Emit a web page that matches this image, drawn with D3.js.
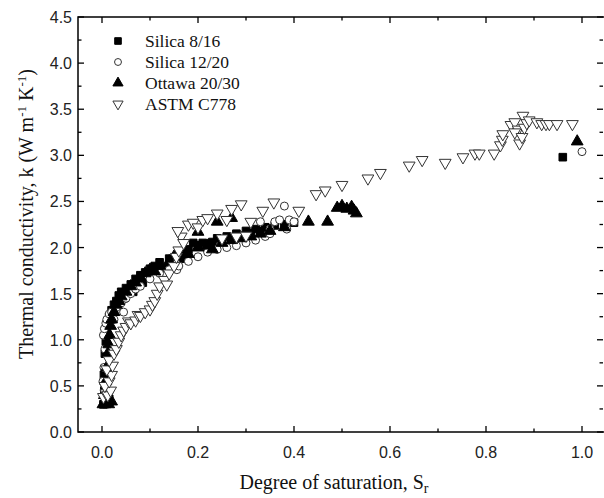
<!DOCTYPE html>
<html><head><meta charset="utf-8">
<script src="https://cdn.jsdelivr.net/npm/d3@7"></script>
<style>body{margin:0;background:#fff}svg{display:block}</style>
</head><body>
<svg id="c" width="604" height="498"></svg>
<script>
const seriesNames = ["Silica 8/16", "Silica 12/20", "Ottawa 20/30", "ASTM C778"];
const xTicks = [0.0, 0.2, 0.4, 0.6, 0.8, 1.0];
const yTicks = [0.0, 0.5, 1.0, 1.5, 2.0, 2.5, 3.0, 3.5, 4.0, 4.5];

const silica816 = [[0.003,0.30],[0.008,0.33],[0.012,0.38],[0.005,0.45],[0.015,0.36],[0.004,0.62],[0.006,0.85],[0.008,0.98],[0.01,1.08],[0.012,1.18],[0.015,1.25],[0.02,1.32],[0.025,1.38],[0.03,1.42],[0.035,1.48],[0.04,1.52],[0.045,1.45],[0.05,1.56],[0.06,1.6],[0.065,1.52],[0.07,1.66],[0.08,1.7],[0.085,1.62],[0.09,1.73],[0.1,1.77],[0.11,1.8],[0.12,1.84],[0.13,1.78],[0.14,1.88],[0.16,1.93],[0.17,1.88],[0.18,1.98],[0.19,2.05],[0.2,2.02],[0.21,2.05],[0.22,2.0],[0.23,2.06],[0.24,2.1],[0.25,2.07],[0.26,2.12],[0.27,2.1],[0.28,2.15],[0.29,2.12],[0.3,2.18],[0.31,2.16],[0.32,2.2],[0.33,2.18],[0.34,2.22],[0.35,2.2],[0.36,2.24],[0.38,2.25],[0.4,2.27],[0.96,2.98]];
const silica1220 = [[0.002,0.55],[0.004,0.7],[0.006,0.9],[0.003,1.05],[0.005,1.12],[0.008,1.18],[0.01,1.22],[0.015,1.28],[0.02,1.3],[0.025,1.22],[0.03,1.35],[0.04,1.4],[0.045,1.3],[0.05,1.45],[0.06,1.5],[0.07,1.55],[0.08,1.58],[0.1,1.66],[0.12,1.72],[0.14,1.76],[0.156,1.76],[0.16,1.8],[0.18,1.85],[0.2,1.9],[0.22,1.95],[0.24,1.98],[0.26,2.0],[0.28,2.02],[0.3,2.05],[0.32,2.08],[0.34,2.12],[0.35,2.2],[0.36,2.28],[0.37,2.3],[0.38,2.45],[0.39,2.3],[0.4,2.28],[0.385,2.2],[0.33,2.28],[0.35,2.15],[1.0,3.04]];
const ottawa2030 = [[0.002,0.3],[0.006,0.3],[0.01,0.32],[0.014,0.3],[0.02,0.33],[0.005,0.4],[0.008,0.55],[0.01,0.7],[0.012,0.85],[0.014,0.95],[0.016,1.05],[0.018,1.15],[0.02,1.22],[0.025,1.3],[0.03,1.38],[0.035,1.42],[0.04,1.47],[0.05,1.52],[0.06,1.58],[0.07,1.62],[0.08,1.67],[0.09,1.72],[0.1,1.76],[0.11,1.74],[0.12,1.8],[0.14,1.85],[0.15,1.9],[0.17,1.95],[0.18,1.93],[0.2,2.0],[0.2,2.17],[0.22,2.02],[0.23,1.98],[0.24,2.28],[0.25,2.05],[0.27,2.08],[0.27,2.32],[0.29,2.1],[0.31,2.12],[0.33,2.15],[0.35,2.18],[0.38,2.22],[0.43,2.28],[0.47,2.28],[0.49,2.43],[0.5,2.45],[0.51,2.42],[0.52,2.44],[0.525,2.4],[0.53,2.37],[0.99,3.15]];
const astmC778 = [[0.003,0.38],[0.008,0.42],[0.012,0.4],[0.018,0.45],[0.006,0.5],[0.015,0.55],[0.02,0.62],[0.01,0.68],[0.022,0.72],[0.015,0.78],[0.025,0.85],[0.03,0.9],[0.035,0.98],[0.04,1.05],[0.045,1.1],[0.05,1.14],[0.055,1.2],[0.06,1.18],[0.07,1.21],[0.075,1.27],[0.08,1.26],[0.09,1.3],[0.1,1.33],[0.105,1.38],[0.11,1.42],[0.115,1.5],[0.12,1.58],[0.13,1.65],[0.135,1.6],[0.14,1.72],[0.15,1.8],[0.155,1.9],[0.16,1.97],[0.165,2.12],[0.17,2.05],[0.158,2.18],[0.18,2.25],[0.19,2.27],[0.2,2.22],[0.21,2.3],[0.22,2.32],[0.24,2.37],[0.25,2.1],[0.26,2.3],[0.27,2.42],[0.28,2.12],[0.29,2.47],[0.3,2.13],[0.31,2.28],[0.335,2.4],[0.358,2.49],[0.41,2.4],[0.446,2.58],[0.465,2.62],[0.5,2.68],[0.554,2.75],[0.58,2.81],[0.64,2.89],[0.667,2.95],[0.715,2.92],[0.752,2.98],[0.777,3.02],[0.786,3.02],[0.817,3.02],[0.83,3.11],[0.834,3.17],[0.835,3.23],[0.852,3.33],[0.86,3.36],[0.877,3.43],[0.867,3.28],[0.86,3.25],[0.87,3.13],[0.875,3.2],[0.88,3.3],[0.885,3.35],[0.89,3.38],[0.906,3.36],[0.916,3.34],[0.925,3.34],[0.932,3.34],[0.948,3.34],[0.98,3.34]];

const svg = d3.select("#c");
const L = 78, R = 606, T = 17, B = 432;
const x = d3.scaleLinear().domain([-0.05, 1.05]).range([L, R]);
const y = d3.scaleLinear().domain([0, 4.5]).range([B, T]);

const sym = [
  {type: d3.symbolSquare, size: 58, fill: "#000", stroke: "#000", rot: 0},
  {type: d3.symbolCircle, size: 50, fill: "#fff", stroke: "#333", rot: 0},
  {type: d3.symbolTriangle, size: 60, fill: "#000", stroke: "#000", rot: 0},
  {type: d3.symbolTriangle, size: 60, fill: "#fff", stroke: "#333", rot: 180}
];
const allData = [silica816, silica1220, ottawa2030, astmC778];

// frame
const frame = svg.append("g").attr("stroke", "#000").attr("stroke-width", 1.5);
frame.append("rect").attr("x", L).attr("y", T).attr("width", R - L).attr("height", B - T).attr("fill", "none");

// ticks
const xMinor = d3.range(0, 1.05, 0.1);
const yMinor = d3.range(0, 4.51, 0.25);
const tg = svg.append("g").attr("stroke", "#000").attr("stroke-width", 1.3);
xMinor.forEach((v, i) => {
  const len = i % 2 === 0 ? 6 : 3.5;
  tg.append("line").attr("x1", x(v)).attr("x2", x(v)).attr("y1", B).attr("y2", B - len);
  tg.append("line").attr("x1", x(v)).attr("x2", x(v)).attr("y1", T).attr("y2", T + len);
});
yMinor.forEach((v, i) => {
  const len = i % 2 === 0 ? 6 : 3.5;
  tg.append("line").attr("x1", L).attr("x2", L + len).attr("y1", y(v)).attr("y2", y(v));
  tg.append("line").attr("x1", 603).attr("x2", 603 - len).attr("y1", y(v)).attr("y2", y(v));
});

// tick labels
svg.append("g").selectAll("text").data(xTicks).join("text")
  .attr("x", d => x(d)).attr("y", 458).attr("text-anchor", "middle")
  .attr("font-family", "Liberation Sans, Arial, sans-serif").attr("font-size", 16).attr("fill", "#222")
  .text(d => d.toFixed(1));
svg.append("g").selectAll("text").data(yTicks).join("text")
  .attr("x", 72).attr("y", d => y(d) + 6).attr("text-anchor", "end")
  .attr("font-family", "Liberation Sans, Arial, sans-serif").attr("font-size", 16).attr("fill", "#222")
  .text(d => d.toFixed(1));

// axis titles
const xt = svg.append("text").attr("x", 334).attr("y", 489).attr("text-anchor", "middle")
  .attr("font-family", "Liberation Serif, Times New Roman, serif").attr("font-size", 20).attr("fill", "#111");
xt.append("tspan").text("Degree of saturation, S");
xt.append("tspan").attr("baseline-shift", "-25%").attr("font-size", 14).text("r");

const yt = svg.append("text").attr("transform", "translate(33,214) rotate(-90)")
  .attr("text-anchor", "middle")
  .attr("font-family", "Liberation Serif, Times New Roman, serif").attr("font-size", 20).attr("fill", "#111");
yt.append("tspan").text("Thermal conductivity, k (W m");
yt.append("tspan").attr("baseline-shift", "super").attr("font-size", 13).text("-1");
yt.append("tspan").text(" K");
yt.append("tspan").attr("baseline-shift", "super").attr("font-size", 13).text("-1");
yt.append("tspan").text(")");

// points
allData.forEach((data, i) => {
  const s = sym[i];
  svg.append("g").selectAll("path").data(data).join("path")
    .attr("d", d3.symbol().type(s.type).size(s.size))
    .attr("transform", d => `translate(${x(d[0])},${y(d[1])}) rotate(${s.rot})`)
    .attr("fill", s.fill).attr("stroke", s.stroke).attr("stroke-width", 1);
});

// legend
const lg = svg.append("g");
seriesNames.forEach((name, i) => {
  const s = sym[i];
  const ly = 41 + i * 21;
  lg.append("path").attr("d", d3.symbol().type(s.type).size(s.size * 0.75))
    .attr("transform", `translate(118,${ly}) rotate(${s.rot})`)
    .attr("fill", s.fill).attr("stroke", s.stroke).attr("stroke-width", 1);
  lg.append("text").attr("x", 145).attr("y", ly + 6)
    .attr("font-family", "Liberation Serif, Times New Roman, serif").attr("font-size", 17.5).attr("fill", "#111")
    .text(name);
});
</script>
</body></html>
